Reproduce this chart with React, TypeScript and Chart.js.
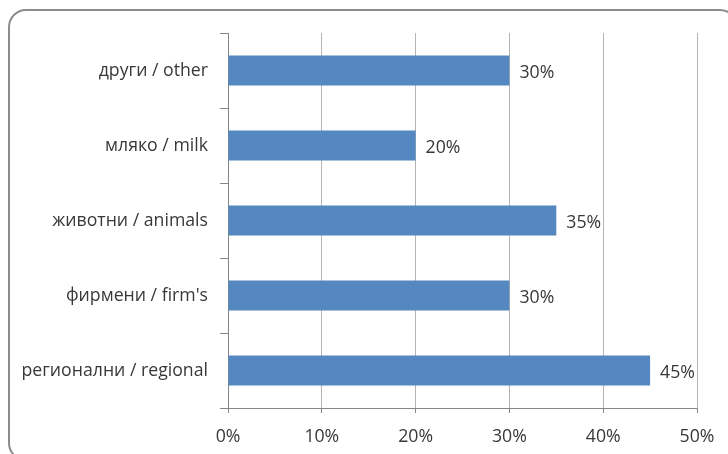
import React, { useEffect, useRef } from "react";
import { Chart, registerables } from "chart.js";

Chart.register(...registerables);

const categories = ["други / other", "мляко / milk", "животни / animals", "фирмени / firm's", "регионални / regional"];
const values = [30, 20, 35, 30, 45];
const xTicks = [0, 10, 20, 30, 40, 50];

const FONT = "'Open Sans', 'Liberation Sans', sans-serif";
const TEXT = "#383838";
const SIZE = 17.7;

const valueLabels = {
  id: "valueLabels",
  afterDatasetsDraw(chart: any) {
    const ctx = chart.ctx;
    const meta = chart.getDatasetMeta(0);
    ctx.save();
    ctx.font = `${SIZE}px ${FONT}`;
    ctx.fillStyle = TEXT;
    ctx.textAlign = "left";
    ctx.textBaseline = "middle";
    meta.data.forEach((bar: any, i: number) => {
      ctx.fillText(values[i] + "%", bar.x + 10, bar.y + 2);
    });
    ctx.restore();
  },
};

export default function App() {
  const ref = useRef<HTMLCanvasElement | null>(null);
  useEffect(() => {
    if (!ref.current) return;
    const chart = new Chart(ref.current, {
      type: "bar",
      data: {
        labels: categories,
        datasets: [
          {
            data: values,
            backgroundColor: "#5588c0",
            borderWidth: 0,
            barPercentage: 0.4,
            categoryPercentage: 1,
          },
        ],
      },
      options: {
        indexAxis: "y",
        animation: false,
        responsive: false,
        layout: { padding: { top: 33, right: 31, left: 0, bottom: 0 } },
        plugins: { legend: { display: false }, tooltip: { enabled: false } },
        scales: {
          x: {
            min: 0,
            max: 50,
            afterBuildTicks: (scale: any) => {
              scale.ticks = xTicks.map((v) => ({ value: v }));
            },
            afterFit: (scale: any) => {
              scale.height = 46;
            },
            ticks: {
              callback: (v: any) => v + "%",
              font: { family: FONT, size: SIZE },
              color: TEXT,
              padding: 13,
              maxRotation: 0,
            },
            grid: { color: "#b4b4b4", lineWidth: 1, tickLength: 5, tickColor: "#868686" },
            border: { color: "#868686", width: 1 },
          },
          y: {
            afterFit: (scale: any) => {
              scale.width = 228;
            },
            ticks: {
              font: { family: FONT, size: SIZE },
              color: TEXT,
              padding: 12,
            },
            grid: {
              offset: true,
              drawOnChartArea: false,
              drawTicks: true,
              tickLength: 8,
              color: "#868686",
            },
            border: { color: "#868686", width: 1 },
          },
        },
      },
      plugins: [valueLabels],
    });
    return () => chart.destroy();
  }, []);
  return (
    <div style={{ position: "fixed", left: 0, top: 0, width: 728, height: 454, background: "#fff", overflow: "hidden" }}>
      <div
        style={{
          position: "absolute",
          left: 8,
          top: 9,
          width: 730,
          height: 452,
          border: "2px solid #8c8c8c",
          borderRadius: 18,
          boxSizing: "border-box",
        }}
      />
      <canvas ref={ref} width={728} height={454} style={{ position: "absolute", left: 0, top: 0 }} />
    </div>
  );
}
